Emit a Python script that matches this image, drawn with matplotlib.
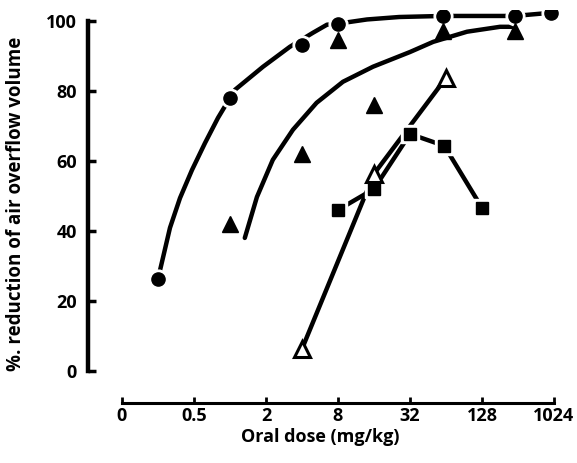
import numpy as np
import matplotlib.pyplot as plt

# values: oral dose (mg/kg) vs % reduction
circle_dose = [0.25, 1, 4, 8, 60, 240, 480]
circle_resp = [26.3, 78, 93, 99, 101.4, 101.4, 102.3]

tri_dose = [1, 4, 8, 16, 60, 240]
tri_resp = [42, 62, 94.5, 76, 97, 97]

open_dose = [4, 16, 64]
open_resp = [6.3, 56.3, 83.7]

sq_dose = [8, 16, 32, 62, 128]
sq_resp = [46, 52, 67.7, 64.3, 46.6]

# hand-drawn fitted curves
circle_fit_dose = [0.25, 0.275, 0.315, 0.382, 0.481, 0.618, 0.794, 1, 1.10, 1.89, 3.17,
                   4.94, 6.47, 8, 14, 26, 60, 240, 480]
circle_fit_resp = [26.3, 32.3, 40.9, 49.4, 57.4, 65.1, 72.3, 78, 80.3, 86.9, 92.6,
                   96.6, 98.9, 99.2, 100.4, 101.1, 101.4, 101.4, 102.3]

tri_fit_dose = [1.33, 1.68, 2.28, 3.36, 5.3, 8.8, 15.7, 32, 50, 96, 181, 230]
tri_fit_resp = [38, 49.7, 60.3, 68.9, 76.6, 82.6, 86.9, 91.1, 94, 96.9, 98.3, 98.3]

tick_doses = [0.125, 0.5, 2, 8, 32, 128, 512]
tick_labels = ['0', '0.5', '2', '8', '32', '128', '1024']
y_ticks = [0, 20, 40, 60, 80, 100]

plt.rcParams['font.family'] = ['Open Sans', 'DejaVu Sans']
plt.rcParams['font.weight'] = 'bold'

fig = plt.figure(figsize=(5.77, 4.63), dpi=100)
ax = fig.add_axes([88 / 577, 53 / 463, 477 / 577, 400 / 463])
ax.set_xscale('log', base=2)
ax.set_xlim(2 ** -3.944, 2 ** 9.306)
ax.set_ylim(-11.14, 103.1)

lw = 3.2
k = 'black'

# curves and connecting lines
ax.plot(circle_fit_dose, circle_fit_resp, color=k, lw=lw, zorder=2, solid_capstyle='round')
ax.plot(tri_fit_dose, tri_fit_resp, color=k, lw=lw, zorder=2, solid_capstyle='round')
ax.plot(open_dose, open_resp, color=k, lw=lw, zorder=2)
ax.plot(sq_dose, sq_resp, color=k, lw=lw, zorder=2)

# white halos so lines stop short of the symbols
for d, r, m, s in [(circle_dose, circle_resp, 'o', 9.5), (sq_dose, sq_resp, 's', 8.5)]:
    ax.plot(d, r, ls='none', marker=m, ms=s + 4, color='white', zorder=3)

ax.plot(circle_dose, circle_resp, ls='none', marker='o', ms=9.5, color=k, zorder=4)
ax.plot(tri_dose, tri_resp, ls='none', marker='^', ms=11, color=k, zorder=4)
ax.plot(sq_dose, sq_resp, ls='none', marker='s', ms=8.5, color=k, zorder=4)
ax.plot(open_dose, open_resp, ls='none', marker='^', ms=11, mfc='white', mec=k, mew=2.2, zorder=5)

# axes styling: detached spines like the original
for side in ['top', 'right']:
    ax.spines[side].set_visible(False)
ax.spines['left'].set_linewidth(3.2)
ax.spines['left'].set_bounds(0, 100)
ax.spines['bottom'].set_linewidth(2.2)
ax.spines['bottom'].set_position(('data', -9.1))
ax.spines['bottom'].set_bounds(tick_doses[0], tick_doses[-1])

ax.set_xticks(tick_doses)
ax.set_xticklabels(tick_labels, fontweight='bold')
ax.xaxis.set_minor_locator(plt.NullLocator())
ax.set_yticks(y_ticks)
ax.set_yticklabels([str(v) for v in y_ticks], fontweight='bold')
ax.tick_params(axis='y', direction='in', length=6, width=2.5, labelsize=13, pad=8)
ax.tick_params(axis='x', direction='in', length=4, width=2, labelsize=13, pad=3)

ax.set_ylabel('%. reduction of air overflow volume', fontsize=13.5, fontweight='bold')
ax.yaxis.set_label_coords(-0.13, 0.515)
ax.set_xlabel('Oral dose (mg/kg)', fontsize=13, fontweight='bold')
ax.xaxis.set_label_coords(0.486, -0.045)

fig.savefig('out.png', dpi=100)
